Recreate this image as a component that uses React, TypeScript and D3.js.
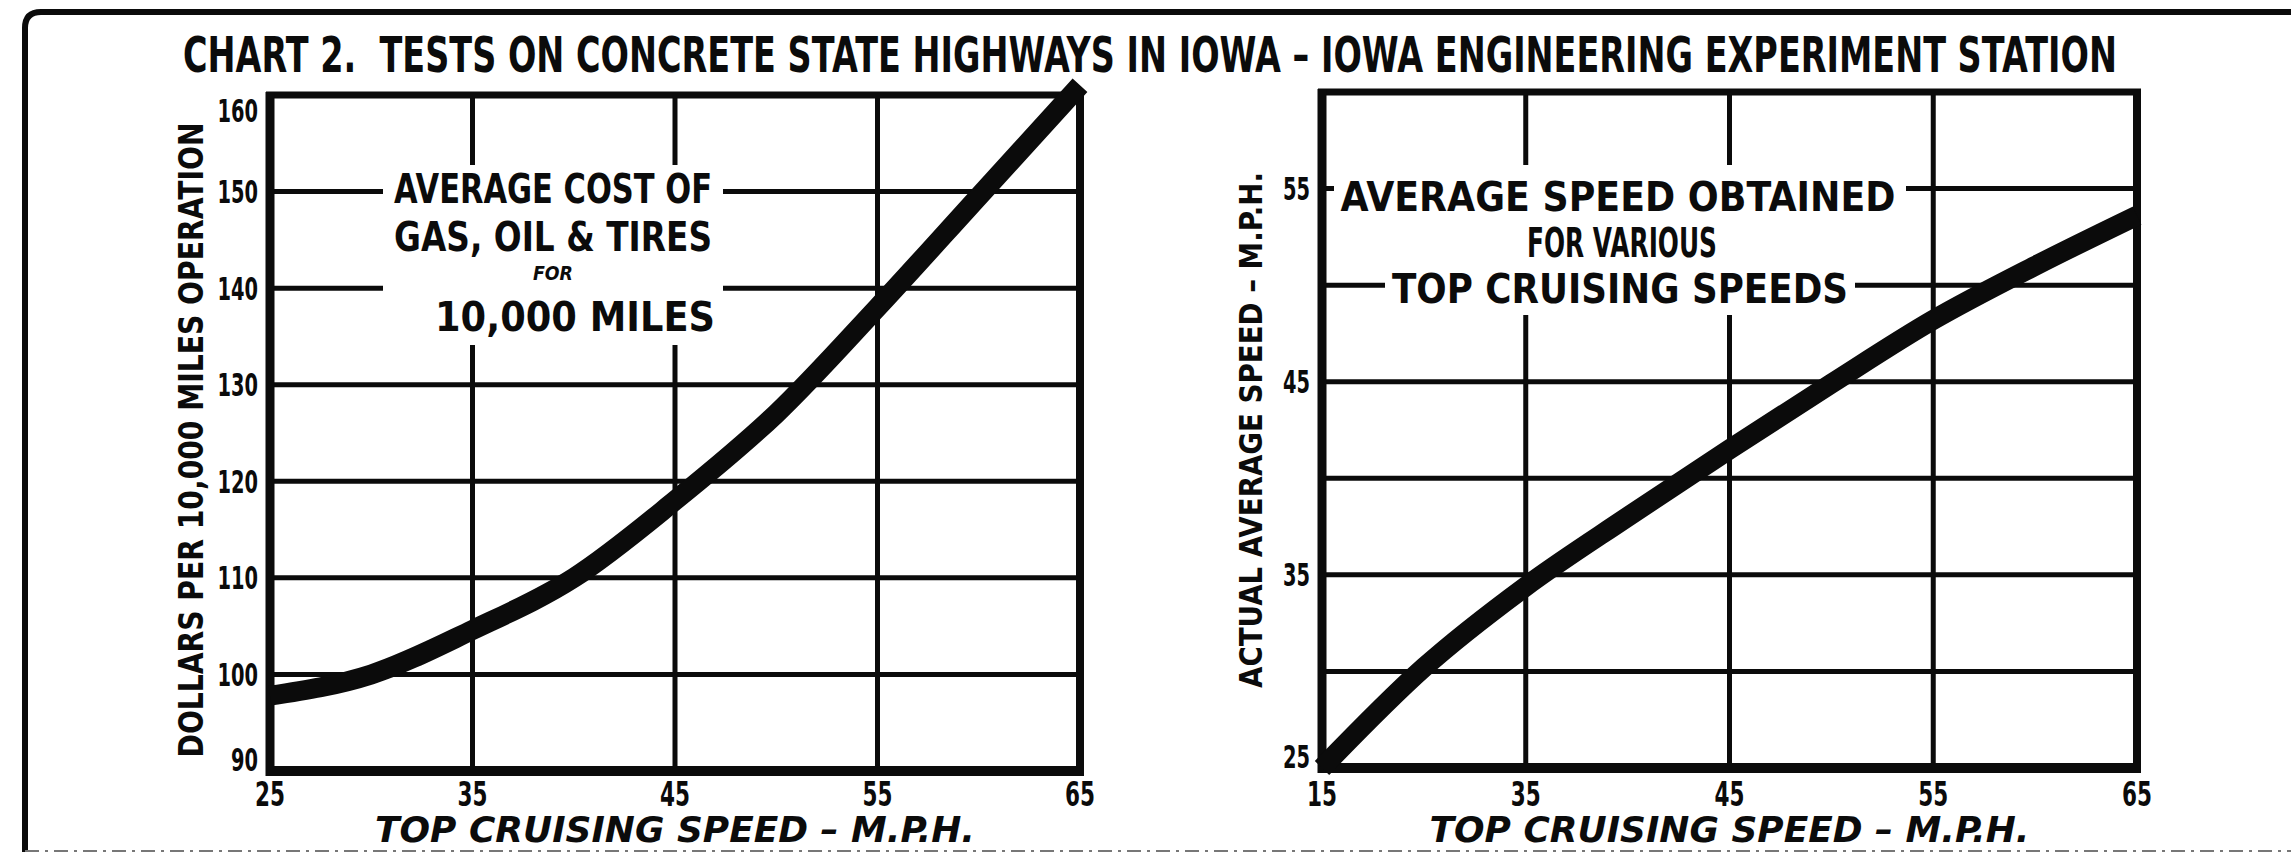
import React, { useRef, useEffect } from 'react';
import * as d3 from 'd3';

// --- data ---
const topSpeed = [25, 30, 35, 40, 45, 50, 55, 60, 65];
const costPer10k = [97.8, 100, 104.6, 110, 118, 127, 138, 149.5, 161];
const avgSpeed = [25, 30.2, 34.4, 38, 41.5, 44.9, 48.2, 51, 53.6];

const xGrid = [25, 35, 45, 55, 65];
const leftXLabels = ['25', '35', '45', '55', '65'];
const rightXLabels = ['15', '35', '45', '55', '65'];

const costGrid = [90, 100, 110, 120, 130, 140, 150, 160];
const costLabels = ['90', '100', '110', '120', '130', '140', '150', '160'];
const speedGrid = [25, 30, 35, 40, 45, 50, 55, 60];
const speedTicks = [25, 35, 45, 55];
const speedLabels = ['25', '35', '45', '55'];

const TITLE = 'CHART 2.  TESTS ON CONCRETE STATE HIGHWAYS IN IOWA – IOWA ENGINEERING EXPERIMENT STATION';
const X_TITLE = 'TOP CRUISING SPEED – M.P.H.';

const INK = '#0b0b0b';
const FONT = "'DejaVu Sans', 'Liberation Sans', sans-serif";

const App = () => {
  const svgRef = useRef<SVGSVGElement>(null);

  useEffect(() => {
    const width = 2291;
    const height = 861;
    const svg = d3.select(svgRef.current).attr('width', width).attr('height', height).html('');

    svg.append('rect').attr('width', width).attr('height', height).attr('fill', '#fff');

    // outer frame (left + top with a rounded corner)
    svg.append('path')
      .attr('d', 'M25,852 L25,28 Q25,12 41,12 L2291,12')
      .attr('fill', 'none').attr('stroke', INK).attr('stroke-width', 6);
    svg.append('line')
      .attr('x1', 25).attr('x2', width).attr('y1', 851).attr('y2', 851)
      .attr('stroke', '#777').attr('stroke-width', 2).attr('stroke-dasharray', '14 6 3 6');

    // title
    svg.append('text')
      .attr('x', 183).attr('y', 72)
      .attr('textLength', 1934).attr('lengthAdjust', 'spacingAndGlyphs')
      .attr('font-family', FONT).attr('font-weight', 'bold').attr('font-size', 50)
      .attr('fill', INK).attr('xml:space', 'preserve')
      .text(TITLE);

    const panels = [
      {
        x0: 270, x1: 1080, y0: 95, y1: 771,
        yDomain: [90, 160], yGrid: costGrid, yTicks: costGrid, yLabels: costLabels,
        xLabels: leftXLabels, values: costPer10k,
        yTitle: 'DOLLARS PER 10,000 MILES OPERATION', yTitleX: 191, yTitleY: 440, yTitleLen: 635, yTitleSize: 34,
        masks: [[383, 165, 340, 180]],
        caption: [
          { t: 'AVERAGE COST OF', x: 553, y: 203, len: 318, size: 40 },
          { t: 'GAS, OIL & TIRES', x: 553, y: 251, len: 318, size: 40 },
          { t: 'FOR', x: 553, y: 280, len: 40, size: 20, italic: true },
          { t: '10,000 MILES', x: 575, y: 331, len: 280, size: 40 },
        ],
      },
      {
        x0: 1322, x1: 2137, y0: 92, y1: 768,
        yDomain: [25, 60], yGrid: speedGrid, yTicks: speedTicks, yLabels: speedLabels,
        xLabels: rightXLabels, values: avgSpeed,
        yTitle: 'ACTUAL AVERAGE SPEED – M.P.H.', yTitleX: 1250, yTitleY: 430, yTitleLen: 516, yTitleSize: 32,
        masks: [[1334, 165, 572, 52], [1385, 165, 470, 150]],
        caption: [
          { t: 'AVERAGE SPEED OBTAINED', x: 1618, y: 211, len: 555, size: 40 },
          { t: 'FOR VARIOUS', x: 1622, y: 257, len: 190, size: 40 },
          { t: 'TOP CRUISING SPEEDS', x: 1620, y: 303, len: 456, size: 40 },
        ],
      },
    ];

    panels.forEach(p => {
      const g = svg.append('g');
      const x = d3.scaleLinear().domain([25, 65]).range([p.x0, p.x1]);
      const y = d3.scaleLinear().domain(p.yDomain).range([p.y1, p.y0]);

      // grid
      g.selectAll('.hgrid')
        .data(p.yGrid.slice(1))
        .enter().append('line')
        .attr('x1', p.x0).attr('x2', p.x1)
        .attr('y1', d => y(d)).attr('y2', d => y(d))
        .attr('stroke', INK).attr('stroke-width', 5);
      g.selectAll('.vgrid')
        .data(xGrid.slice(1, -1))
        .enter().append('line')
        .attr('x1', d => x(d)).attr('x2', d => x(d))
        .attr('y1', p.y0).attr('y2', p.y1)
        .attr('stroke', INK).attr('stroke-width', 5);

      // caption knockout
      p.masks.forEach(m => {
        g.append('rect').attr('x', m[0]).attr('y', m[1]).attr('width', m[2]).attr('height', m[3]).attr('fill', '#fff');
      });
      p.caption.forEach(c => {
        g.append('text')
          .attr('x', c.x).attr('y', c.y).attr('text-anchor', 'middle')
          .attr('textLength', c.len).attr('lengthAdjust', 'spacingAndGlyphs')
          .attr('font-family', FONT).attr('font-weight', 'bold').attr('font-size', c.size)
          .attr('font-style', c.italic ? 'italic' : 'normal')
          .attr('fill', INK).text(c.t);
      });

      // frame
      g.append('line').attr('x1', p.x0 - 4).attr('x2', p.x1 + 4).attr('y1', p.y0).attr('y2', p.y0)
        .attr('stroke', INK).attr('stroke-width', 7);
      g.append('line').attr('x1', p.x1).attr('x2', p.x1).attr('y1', p.y0).attr('y2', p.y1)
        .attr('stroke', INK).attr('stroke-width', 8);
      g.append('line').attr('x1', p.x0).attr('x2', p.x0).attr('y1', p.y0 - 3).attr('y2', p.y1 + 5)
        .attr('stroke', INK).attr('stroke-width', 9);
      g.append('line').attr('x1', p.x0 - 4).attr('x2', p.x1 + 4).attr('y1', p.y1).attr('y2', p.y1)
        .attr('stroke', INK).attr('stroke-width', 10);

      // curve
      const line = d3.line<number>()
        .x((_, i) => x(topSpeed[i]))
        .y(d => y(d))
        .curve(d3.curveMonotoneX);
      g.append('path')
        .attr('d', line(p.values))
        .attr('fill', 'none').attr('stroke', INK).attr('stroke-width', 20)
        .attr('stroke-linejoin', 'round');

      // y tick labels
      g.selectAll('.ylab')
        .data(p.yTicks)
        .enter().append('text')
        .attr('x', p.x0 - 12)
        .attr('y', d => Math.max(p.y0 + 15, Math.min(p.y1 - 12, y(d))))
        .attr('dy', '0.36em')
        .attr('text-anchor', 'end')
        .attr('textLength', (_, i) => p.yLabels[i].length * 13.5)
        .attr('lengthAdjust', 'spacingAndGlyphs')
        .attr('font-family', FONT).attr('font-weight', 'bold').attr('font-size', 32)
        .attr('fill', INK)
        .text((_, i) => p.yLabels[i]);

      // x tick labels
      g.selectAll('.xlab')
        .data(xGrid)
        .enter().append('text')
        .attr('x', d => x(d))
        .attr('y', 806)
        .attr('text-anchor', 'middle')
        .attr('textLength', (_, i) => p.xLabels[i].length * 15)
        .attr('lengthAdjust', 'spacingAndGlyphs')
        .attr('font-family', FONT).attr('font-weight', 'bold').attr('font-size', 34)
        .attr('fill', INK)
        .text((_, i) => p.xLabels[i]);

      // axis titles
      g.append('text')
        .attr('x', (p.x0 + p.x1) / 2).attr('y', 842)
        .attr('text-anchor', 'middle')
        .attr('textLength', 600).attr('lengthAdjust', 'spacingAndGlyphs')
        .attr('font-family', FONT).attr('font-weight', 'bold').attr('font-style', 'italic').attr('font-size', 36)
        .attr('fill', INK).text(X_TITLE);

      g.append('text')
        .attr('transform', `translate(${p.yTitleX},${p.yTitleY}) rotate(-90)`)
        .attr('text-anchor', 'middle').attr('dy', '0.36em')
        .attr('textLength', p.yTitleLen).attr('lengthAdjust', 'spacingAndGlyphs')
        .attr('font-family', FONT).attr('font-weight', 'bold').attr('font-size', p.yTitleSize)
        .attr('fill', INK).text(p.yTitle);
    });
  }, []);

  return (
    <svg ref={svgRef} style={{ position: 'absolute', left: 0, top: 0, display: 'block' }}></svg>
  );
};

export default App;
